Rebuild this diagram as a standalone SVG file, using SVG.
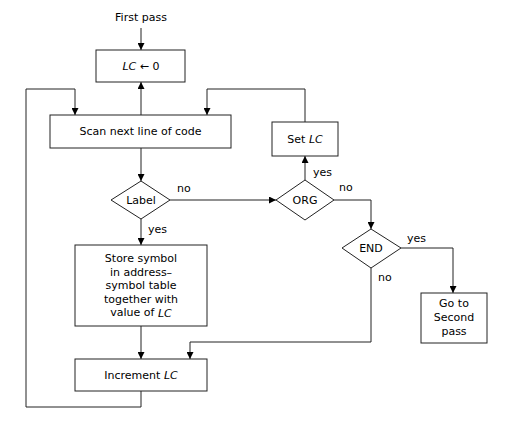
<svg xmlns="http://www.w3.org/2000/svg" width="513" height="424" viewBox="0 0 513 424">
<defs>
<marker id="ah" viewBox="0 0 10 10" refX="10" refY="5" markerWidth="7" markerHeight="7" markerUnits="userSpaceOnUse" orient="auto">
<path d="M0,0 L10,5 L0,10 z" fill="#000"/>
</marker>
<style>
.n{fill:#fff;stroke:#222;stroke-width:1}
.c{fill:none;stroke:#222;stroke-width:1}
.a{marker-end:url(#ah)}
text{font-family:"DejaVu Sans",Verdana,sans-serif;font-size:11px;fill:#000}
.m{text-anchor:middle;dominant-baseline:central}
.i{font-style:italic}
</style>
</defs>
<rect width="513" height="424" fill="#fff"/>
<g id="connectors">
<path class="c a" d="M141,28 V50"/>
<path class="c a" d="M141,115 V82"/>
<path class="c a" d="M141,148 V181"/>
<path class="c a" d="M141,219 V245"/>
<path class="c a" d="M141,326 V359"/>
<path class="c a" d="M141,391 V407 H26 V89 H75 V115"/>
<path class="c a" d="M170,200 H276"/>
<path class="c a" d="M305,180 V156"/>
<path class="c a" d="M305,122 V89 H207 V115"/>
<path class="c a" d="M334,200 H371 V229"/>
<path class="c a" d="M401,248 H453 V293"/>
<path class="c a" d="M371,268 V342 H190 V359"/>
</g>
<g id="labels">
<text class="m" x="141" y="17">First pass</text>
<text x="177" y="192">no</text>
<text x="148" y="233">yes</text>
<text x="313" y="176">yes</text>
<text x="339" y="191">no</text>
<text x="407" y="242">yes</text>
<text x="378" y="281">no</text>
</g>
<g id="lc0">
<rect class="n" x="96" y="50" width="89" height="32"/>
<text class="m" x="141" y="66"><tspan class="i">LC</tspan> ← 0</text>
</g>
<g id="scan">
<rect class="n" x="50" y="115" width="181" height="33"/>
<text class="m" x="140.5" y="131.5">Scan next line of code</text>
</g>
<g id="label">
<polygon class="n" points="141,181 170,200 141,219 111,200"/>
<text class="m" x="141" y="200">Label</text>
</g>
<g id="store">
<rect class="n" x="75" y="245" width="132" height="81"/>
<text class="m" x="141" y="258">Store symbol</text>
<text class="m" x="141" y="272">in address–</text>
<text class="m" x="141" y="285.5">symbol table</text>
<text class="m" x="141" y="299">together with</text>
<text class="m" x="141" y="312.5">value of <tspan class="i">LC</tspan></text>
</g>
<g id="increment">
<rect class="n" x="75" y="359" width="132" height="32"/>
<text class="m" x="141" y="375">Increment <tspan class="i">LC</tspan></text>
</g>
<g id="setlc">
<rect class="n" x="272" y="122" width="66" height="34"/>
<text class="m" x="305" y="139">Set <tspan class="i">LC</tspan></text>
</g>
<g id="org">
<polygon class="n" points="305,180 334,200 305,220 276,200"/>
<text class="m" x="305" y="200">ORG</text>
</g>
<g id="end">
<polygon class="n" points="371,229 401,248 371,268 342,248"/>
<text class="m" x="371" y="248">END</text>
</g>
<g id="second">
<rect class="n" x="421" y="293" width="66" height="50"/>
<text class="m" x="454" y="303">Go to</text>
<text class="m" x="454" y="317">Second</text>
<text class="m" x="454" y="331">pass</text>
</g>
</svg>
